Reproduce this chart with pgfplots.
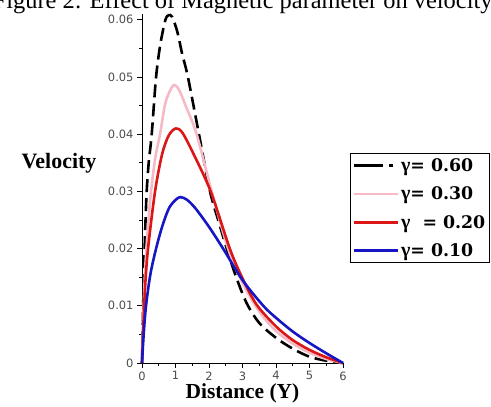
\documentclass[border=0pt]{standalone}
\usepackage{pgfplots}
\pgfplotsset{compat=1.18}
\usepackage{fontspec}
\setmainfont{Liberation Serif}
\newfontfamily\dvsans{DejaVu Sans}
\newfontfamily\dvserif{DejaVu Serif}
\newcommand{\g}{{\rmfamily\bfseries\fontsize{20}{18}\selectfont γ}}
\definecolor{cpink}{RGB}{246,186,198}
\definecolor{cred}{RGB}{218,22,22}
\definecolor{cblue}{RGB}{22,22,196}
\begin{document}
\begin{tikzpicture}[x=1bp,y=1bp]
\useasboundingbox (0,0) rectangle (491,406);
\node[anchor=base east, font=\fontsize{24.5}{26}\selectfont] at (496,397) {Figure 2: Effect of Magnetic parameter on velocity};
\begin{axis}[
  at={(142bp,43bp)}, anchor=south west,
  scale only axis, width=201bp, height=349bp,
  xmin=0, xmax=6, ymin=0, ymax=0.061,
  axis lines=left, axis line style={-, line width=0.8pt},
  xtick={0,1,2,3,4,5,6},
  ytick={0,0.01,0.02,0.03,0.04,0.05,0.06},
  yticklabels={0,0.01,0.02,0.03,0.04,0.05,0.06},
  minor tick num=1,
  tick align=outside,
  major tick length=5bp, minor tick length=3bp,
  tick style={line width=0.6pt, black},
  /pgf/number format/assume math mode=true,
  ticklabel style={font=\dvsans\fontsize{11.5}{13}\selectfont, text=black!70},
  scaled y ticks=false,
  xlabel={\textbf{Distance (Y)}},
  xlabel style={at={(axis description cs:0.5,0)}, anchor=center, yshift=-30bp, font=\fontsize{21.5}{22}\selectfont},
  ylabel={\textbf{Velocity}},
  ylabel style={rotate=-90, at={(axis description cs:0,0.573)}, anchor=center, xshift=-83bp, font=\fontsize{22}{23}\selectfont},
  clip=false,
  legend style={at={(axis description cs:1.035,0.6017)}, anchor=north west, draw=black, line width=1pt,
    font=\dvserif\fontsize{17.4}{18}\selectfont\bfseries, row sep=10bp, inner xsep=2bp, inner ysep=3bp,
    legend cell align=left},
  legend image code/.code={\draw[#1] (0bp,0bp) -- (44bp,0bp);},
]
\addplot[black, line width=2.6bp, dash pattern=on 13bp off 6bp, smooth, tension=0.5,
  legend image code/.code={\draw[black,solid,line width=2.6bp] (0bp,0bp) -- (29bp,0bp); \draw[black,solid,line width=2.6bp] (35bp,0bp) -- (39bp,0bp);}] coordinates {
(0,0) (0.05,0.014) (0.1,0.024) (0.14,0.03) (0.2,0.035) (0.29,0.04) (0.42,0.05) (0.55,0.0558) (0.7,0.0600) (0.8,0.0608) (0.9,0.0605) (1.05,0.058) (1.2,0.054) (1.37,0.05) (1.7,0.04) (2.03,0.03) (2.3,0.0245) (2.53,0.02) (2.8,0.0152) (3.12,0.0105) (3.5,0.0070) (4,0.0044) (4.5,0.0025) (5,0.0011) (5.5,0.0004) (6,0)};
\addlegendentry{\g= 0.60}
\addplot[cpink, line width=2.6bp, smooth, tension=0.5] coordinates {
(0,0) (0.05,0.01) (0.1,0.017) (0.18,0.024) (0.27,0.03) (0.4,0.036) (0.54,0.04) (0.7,0.0455) (0.93,0.0485) (1.1,0.0478) (1.3,0.045) (1.63,0.04) (2.08,0.03) (2.57,0.02) (3,0.0140) (3.5,0.0090) (4,0.0056) (4.5,0.0034) (5,0.0018) (5.5,0.0007) (6,0)};
\addlegendentry{\g= 0.30}
\addplot[cred, line width=2.6bp, smooth, tension=0.5] coordinates {
(0,0) (0.05,0.008) (0.1,0.014) (0.18,0.02) (0.39,0.03) (0.6,0.0365) (0.8,0.0398) (1.01,0.041) (1.2,0.0403) (1.5,0.037) (2.05,0.03) (2.62,0.02) (3,0.0148) (3.42,0.0102) (4,0.0064) (4.5,0.0040) (5,0.0023) (5.5,0.0010) (6,0)};
\addlegendentry{\g\ \ = 0.20}
\addplot[cblue, line width=2.6bp, smooth, tension=0.5] coordinates {
(0,0) (0.05,0.005) (0.12,0.01) (0.25,0.0155) (0.42,0.02) (0.6,0.0238) (0.8,0.027) (1.0,0.0285) (1.15,0.029) (1.35,0.0285) (1.6,0.027) (2.0,0.0238) (2.42,0.02) (3,0.0145) (3.62,0.01) (4,0.0079) (4.5,0.0055) (5,0.0035) (5.5,0.0017) (6,0)};
\addlegendentry{\g= 0.10}
\end{axis}
\end{tikzpicture}
\end{document}
